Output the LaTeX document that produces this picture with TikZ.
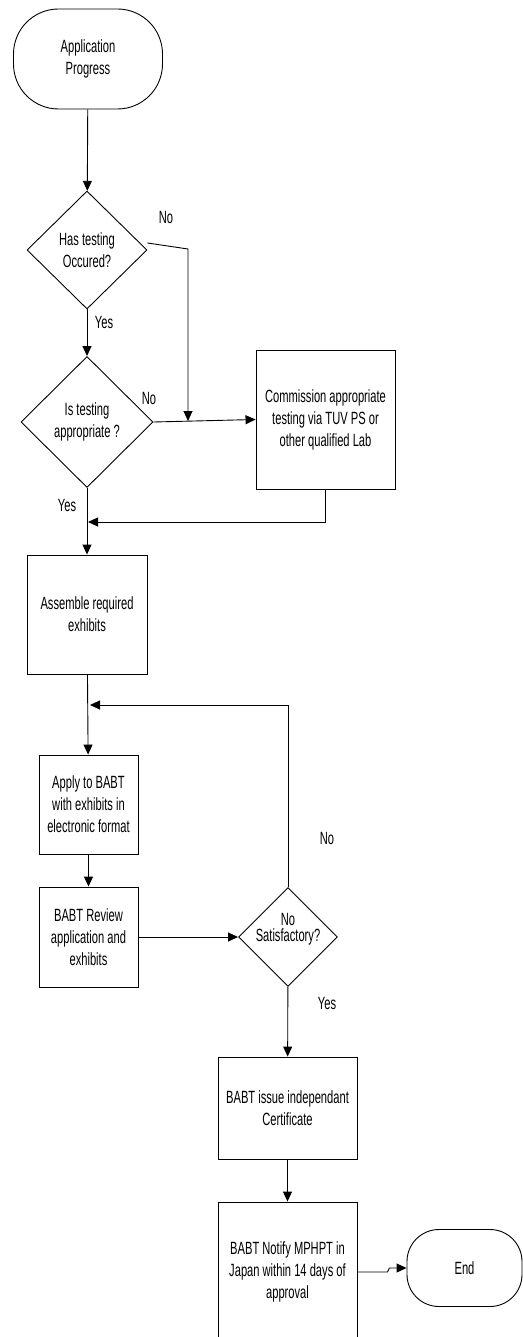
\documentclass[tikz,border=0pt]{standalone}
\usepackage{fontspec}
\setmainfont[FakeStretch=0.63]{Liberation Sans}
\usetikzlibrary{shapes.geometric,arrows.meta}

\begin{document}
\begin{tikzpicture}[x=1pt,y=-1pt,line width=0.9pt,>={Triangle[length=10pt,width=9pt]},
  every node/.style={font=\fontsize{17.7}{22}\selectfont,align=center,inner sep=0pt},
  term/.style={draw,rectangle,rounded corners=#1},
  box/.style={draw,rectangle},
  decision/.style={draw,diamond}]
\useasboundingbox (0,0) rectangle (522,1337);
% terminals
\node[term=45pt,minimum width=149pt,minimum height=100pt] (start) at (88,59) {Application\\Progress};
\node[term=32pt,minimum width=115pt,minimum height=77pt] (end) at (464.5,1268) {End};
% decisions
\node[decision,minimum width=120pt,minimum height=118pt] (d1) at (87,250) {Has testing\\Occured?};
\node[decision,minimum width=132pt,minimum height=131pt] (d2) at (87,422) {Is testing\\appropriate ?};
\node[decision,minimum width=99pt,minimum height=99pt] (d3) at (288,937)
  {\raisebox{8pt}[\height][\depth]{\shortstack{No\\Satisfactory?}}};
% process boxes
\node[box,minimum width=139pt,minimum height=139pt] (b1) at (325.5,419.5) {Commission appropriate\\testing via TUV PS or\\other qualified Lab};
\node[box,minimum width=120pt,minimum height=119pt] (b2) at (87,614.5) {Assemble required\\exhibits};
\node[box,minimum width=99pt,minimum height=99pt] (b3) at (88.5,804.5) {Apply to BABT\\with exhibits in\\electronic format};
\node[box,minimum width=99pt,minimum height=100pt] (b4) at (88.5,937) {BABT Review\\application and\\exhibits};
\node[box,minimum width=139pt,minimum height=102pt] (b5) at (287.5,1108) {BABT issue independant\\Certificate};
\node[box,minimum width=139pt,minimum height=140pt] (b6) at (287.5,1272) {BABT Notify MPHPT in\\Japan within 14 days of\\approval};
% labels
\foreach \n/\x/\y/\t in {no1/166/217/No, yes1/104/322/Yes, no2/149/398/No,
    yes2/67/505/Yes, no3/327/838/No, yes3/327/1003/Yes}
  \node (\n) at (\x,\y) {\t};
% junctions
\coordinate (k1) at (188,249);
\coordinate (j1) at (188,421);
\coordinate (j2) at (88,522);
\coordinate (j3) at (90,705);
% connectors
\draw[->] (start) -- (d1);
\draw[->] (d1) -- (d2);
\draw[->] (d1.east) ++(0,-7) -- (k1) -- (j1);
\draw[->] (d2.east) -- (b1.west);
\draw[->] (b1.south) |- (j2);
\draw[->] (d2) -- (b2);
\draw[->] (b2) -- (b3);
\draw[->] (d3.north) |- (j3);
\draw[->] (b3) -- (b4);
\draw[->] (b4) -- (d3);
\draw[->] (d3) -- (b5);
\draw[->] (b5) -- (b6);
\draw[->] (b6.east) -- ++(30,0) -- ++(2,-4) -- (end.west);
\end{tikzpicture}
\end{document}
